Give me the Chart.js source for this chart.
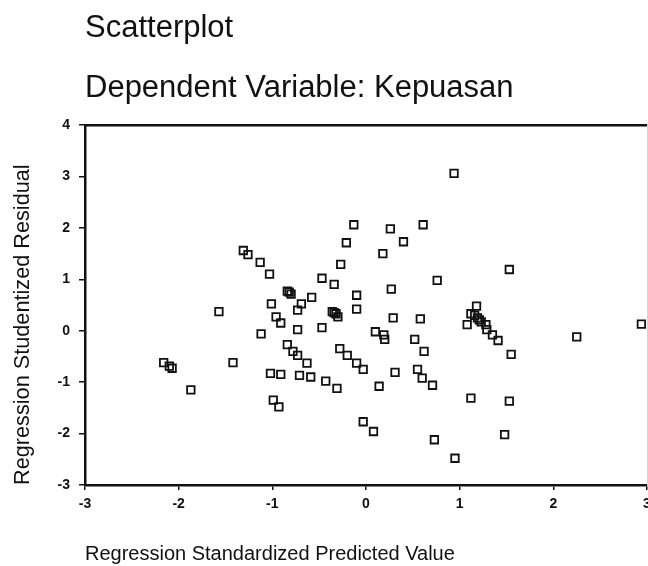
<!DOCTYPE html>
<html>
<head>
<meta charset="utf-8">
<script src="https://cdn.jsdelivr.net/npm/chart.js@4.4.1/dist/chart.umd.min.js"></script>
<style>
  html, body { margin: 0; padding: 0; background: #fff; overflow: hidden; }
  #wrap { position: absolute; left: 0; top: 0; width: 680px; height: 566px; }
</style>
</head>
<body>
<div id="wrap"><canvas id="scatter" width="680" height="566"></canvas></div>
<script>
// Nilai (perkiraan)
const predicted = [
  0.94, -0.13, 0.26, 0.61, -0.21, 0.40, -1.31, -1.26, -1.13, 0.18,
  -0.27, 1.53, -1.03, 0.76, -0.47, -0.34, 0.27, -0.82, -0.80, -0.84,
  -0.58, -0.10, -1.01, -0.69, -0.73, -0.36, -0.34, -0.32, -0.30, -0.10,
  -1.57, 1.18, 1.12, 1.08, 1.19, 1.16, 1.21, 1.23, 1.28, 1.29,
  1.35, 1.41, 1.55, 2.25, 2.94, 0.29, 0.58, -0.96, -0.91, -1.12,
  -0.73, -0.47, 0.10, 0.19, 0.20, 0.52, 0.62, -0.84, -0.78, -0.73,
  -0.63, -0.28, -0.20, -0.10, -0.03, -1.02, -0.91, -0.71, -0.59, -0.43,
  -0.31, 0.14, 0.31, 0.55, 0.60, 0.71, -0.99, -0.93, -0.03, 0.08,
  0.73, -2.16, -2.10, -2.07, -1.42, -1.87, 1.12, 1.53, 1.48, 0.95
];
const residual = [
  3.06, 2.06, 1.98, 2.06, 1.71, 1.73, 1.56, 1.48, 1.33, 1.50,
  1.29, 1.19, 1.10, 0.98, 1.02, 0.90, 0.81, 0.75, 0.71, 0.77,
  0.65, 0.69, 0.52, 0.52, 0.40, 0.37, 0.35, 0.33, 0.27, 0.42,
  0.37, 0.48, 0.33, 0.12, 0.25, 0.30, 0.21, 0.17, 0.12, 0.02,
  -0.08, -0.19, -0.46, -0.12, 0.13, 0.25, 0.23, 0.27, 0.15, -0.06,
  0.02, 0.06, -0.02, -0.08, -0.17, -0.17, -0.40, -0.27, -0.40, -0.48,
  -0.63, -0.35, -0.48, -0.63, -0.75, -0.83, -0.85, -0.87, -0.90, -0.98,
  -1.12, -1.08, -0.81, -0.75, -0.92, -1.06, -1.35, -1.48, -1.77, -1.96,
  -2.12, -0.62, -0.69, -0.73, -0.62, -1.15, -1.31, -1.37, -2.02, -2.48
];
const xTicks = [-3, -2, -1, 0, 1, 2, 3];
const yTicks = [-3, -2, -1, 0, 1, 2, 3, 4];

const points = predicted.map((x, i) => ({ x: x, y: residual[i] }));

const fam = "'Liberation Sans', Arial, sans-serif";
const tickFont = { family: fam, size: 14, weight: 'bold' };

new Chart(document.getElementById('scatter'), {
  type: 'scatter',
  data: {
    datasets: [{
      data: points,
      pointStyle: 'rect',
      pointRadius: 5.3,
      pointHoverRadius: 5.3,
      pointBorderWidth: 1.8,
      pointBorderColor: '#111',
      pointBackgroundColor: 'rgba(0,0,0,0)'
    }]
  },
  options: {
    responsive: false,
    animation: false,
    layout: { padding: 0 },
    plugins: {
      legend: { display: false },
      tooltip: { enabled: false },
      title: {
        display: true,
        text: 'Scatterplot',
        align: 'start',
        fullSize: false,
        color: '#111',
        font: { family: fam, size: 31, weight: 'normal', lineHeight: 1.2 },
        padding: { top: 9.5, bottom: 0 }
      },
      subtitle: {
        display: true,
        text: 'Dependent Variable: Kepuasan',
        align: 'start',
        fullSize: false,
        color: '#111',
        font: { family: fam, size: 31, weight: 'normal', lineHeight: 1.2 },
        padding: { top: 22.8, bottom: 0 }
      }
    },
    scales: {
      x: {
        type: 'linear',
        position: 'bottom',
        min: -3,
        max: 3,
        afterBuildTicks: s => { s.ticks = xTicks.map(v => ({ value: v })); },
        afterFit: s => { s.height = 81; },
        grid: { display: true, drawOnChartArea: false, drawTicks: true, tickLength: 5, color: '#111', lineWidth: 1.5 },
        border: { display: true, color: '#111', width: 2.5 },
        ticks: { color: '#111', font: tickFont, padding: 6, maxRotation: 0 },
        title: {
          display: true,
          text: 'Regression Standardized Predicted Value',
          align: 'start',
          color: '#111',
          font: { family: fam, size: 20, lineHeight: 1.2 },
          padding: { top: 0, bottom: 0 }
        }
      },
      y: {
        type: 'linear',
        position: 'left',
        min: -3,
        max: 4,
        afterBuildTicks: s => { s.ticks = yTicks.map(v => ({ value: v })); },
        afterFit: s => { s.width = 85; },
        grid: { display: true, drawOnChartArea: false, drawTicks: true, tickLength: 6, color: '#111', lineWidth: 1.5 },
        border: { display: true, color: '#111', width: 2.5 },
        ticks: { color: '#111', font: tickFont, padding: 9 },
        title: {
          display: true,
          text: 'Regression Studentized Residual',
          align: 'start',
          color: '#111',
          font: { family: fam, size: 21.7, lineHeight: 1.2 },
          padding: { top: 10, bottom: 0 }
        }
      },
      xTop: {
        type: 'linear',
        position: 'top',
        min: -3,
        max: 3,
        afterFit: s => { s.height = 18.3; },
        grid: { display: false },
        border: { display: true, color: '#111', width: 2.5 },
        ticks: { display: false }
      },
      yRight: {
        type: 'linear',
        position: 'right',
        min: -3,
        max: 4,
        afterFit: s => { s.width = 33; },
        grid: { display: false },
        border: { display: true, color: '#d4d4d4', width: 1 },
        ticks: { display: false }
      }
    }
  }
});
</script>
</body>
</html>
